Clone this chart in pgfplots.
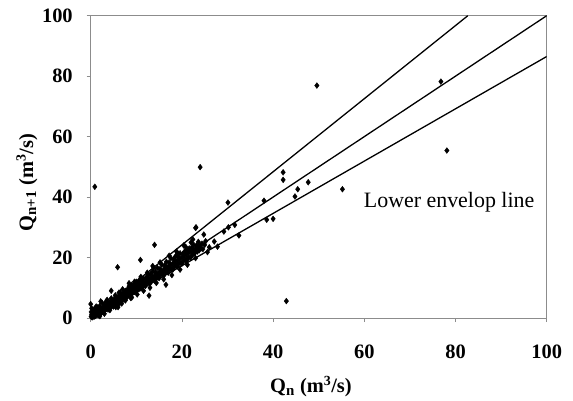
\documentclass[border=0pt]{standalone}
\usepackage{pgfplots}
\pgfplotsset{compat=1.18}
\usepackage{fontspec}
\setmainfont{Liberation Serif}
\begin{document}
\begin{tikzpicture}[x=1bp,y=1bp]
\useasboundingbox (0,0) rectangle (573,400);
\begin{axis}[
  at={(90.7bp,82bp)}, anchor=south west,
  width=456bp, height=302.3bp, scale only axis,
  xmin=0, xmax=100, ymin=0, ymax=100,
  xtick={0,20,40,60,80,100}, ytick={0,20,40,60,80,100},
  xtick pos=bottom, ytick pos=left,
  tick align=outside, major tick length=4bp,
  axis line style={draw=black!45, line width=0.8bp},
  every tick/.style={draw=black!45, line width=0.8bp},
  /pgf/number format/assume math mode=true,
  ticklabel style={font=\fontsize{20.5}{24}\selectfont\bfseries},
  xticklabel style={yshift=-19bp},
  yticklabel style={xshift=-10.5bp},
  xlabel={\textbf{Q\textsubscript{\fontsize{15}{16}\selectfont n} (m\textsuperscript{\fontsize{14}{16}\selectfont 3}/s)}},
  ylabel={\textbf{Q\textsubscript{\fontsize{15}{16}\selectfont n+1} (m\textsuperscript{\fontsize{14}{16}\selectfont 3}/s)}},
  label style={font=\fontsize{20.5}{24}\selectfont},
  xlabel style={at={(rel axis cs:0.483,-0.227)}, anchor=center},
  ylabel style={at={(rel axis cs:-0.140,0.448)}, anchor=center, rotate=0},
  clip=true,
]
\addplot[black, line width=1.3bp] coordinates {(0,0) (82.7,100)};
\addplot[black, line width=1.3bp] coordinates {(0,0) (100,100)};
\addplot[black, line width=1.3bp] coordinates {(0,0) (100,86.5)};
\addplot[only marks, mark=diamond*, mark size=2.9bp, black] table {
x y
0.1 0.5
0.2 1.2
0.3 0.2
0.4 0.8
0.5 2.0
0.5 0.4
0.6 1.5
0.7 0.9
0.8 3.0
0.8 0.5
0.9 1.8
1.0 1.0
1.0 2.5
1.1 0.7
1.2 1.6
1.3 2.2
1.4 1.0
1.5 3.5
1.5 1.4
1.6 2.0
1.7 0.9
1.8 2.6
1.9 1.5
2.0 2.0
2.0 4.0
2.1 1.2
2.2 3.0
2.3 2.4
2.4 1.8
2.5 5.0
2.5 2.8
2.6 2.2
2.7 3.5
2.8 1.9
2.9 3.0
3.0 2.5
3.0 4.5
0.0 4.6
0.2 3.2
0.1 2.0
0.3 1.0
3.1 3.8
3.2 2.7
3.3 3.3
3.4 5.5
3.5 3.0
3.6 4.2
3.7 3.5
3.8 2.8
3.9 4.8
4.0 4.0
4.1 3.4
4.2 5.2
4.3 4.4
4.4 3.6
4.5 6.5
4.6 4.8
4.7 4.0
4.8 5.6
4.9 4.3
5.0 5.0
5.0 3.8
5.1 6.2
5.2 5.4
5.3 4.5
5.4 7.5
5.5 5.8
5.6 4.8
5.7 6.6
5.8 5.2
5.9 16.8
6.0 6.0
6.0 4.6
6.1 7.2
6.2 5.5
6.3 6.8
6.4 5.0
6.5 8.5
6.6 6.4
6.7 5.8
6.8 7.6
6.9 6.0
7.0 7.0
7.0 9.5
7.1 6.2
7.2 8.0
7.3 6.6
7.4 7.8
7.5 6.5
7.6 9.0
7.7 7.2
7.8 6.8
7.9 8.4
8.0 8.0
8.0 7.0
8.1 9.5
8.2 7.5
8.3 8.8
8.4 10.5
8.5 7.8
8.6 9.2
8.7 8.2
8.8 10.0
8.9 8.0
9.0 9.0
9.0 11.0
9.1 8.3
9.2 9.8
9.3 8.5
9.4 10.6
9.5 9.2
9.6 8.6
9.7 11.2
9.8 9.6
9.9 9.0
10.0 10.0
10.0 12.0
10.1 9.0
10.2 10.8
10.3 9.4
10.4 11.4
10.5 10.2
10.6 9.6
10.7 12.6
10.8 10.6
10.9 19.2
11.0 11.0
11.0 9.8
11.2 12.0
11.4 10.4
11.5 11.6
11.6 13.0
11.8 11.0
12.0 12.0
12.0 10.6
12.2 13.4
12.4 11.8
12.5 12.6
12.6 14.2
12.8 7.4
12.8 11.6
13.0 13.0
13.0 11.4
13.2 14.6
13.4 12.4
13.5 13.6
13.6 15.4
13.8 12.8
14.0 24.2
14.0 14.0
14.0 12.4
14.2 15.2
14.4 13.4
14.5 14.6
14.6 16.6
14.8 13.8
15.0 15.0
15.0 13.2
15.2 16.2
15.4 14.4
15.5 15.6
15.6 17.6
15.8 14.6
16.0 16.0
16.0 14.0
16.2 17.4
16.4 15.2
16.5 11.0
16.5 16.6
16.6 18.6
16.8 15.6
17.0 17.0
17.0 15.0
17.2 18.4
17.4 16.2
17.5 17.6
17.6 19.8
17.8 16.4
18.0 18.0
18.0 16.0
18.2 19.4
18.4 17.0
18.5 18.6
18.6 20.4
18.8 17.4
19.0 19.0
19.0 17.0
19.2 20.2
19.4 18.0
19.5 19.6
19.6 21.4
19.8 18.2
20.0 20.0
20.0 18.0
20.2 21.2
20.4 19.0
20.5 20.6
20.6 22.0
20.8 19.2
21.0 21.0
21.0 19.0
21.2 22.4
21.4 20.0
21.5 21.6
21.6 23.0
21.8 20.0
22.0 22.0
22.0 20.2
22.2 23.4
22.4 21.0
22.5 22.6
22.6 24.2
22.8 21.4
23.0 23.0
23.0 29.8
23.1 30.0
23.2 24.0
23.4 22.0
23.5 23.4
23.6 25.2
23.8 22.4
24.0 24.0
24.0 49.9
24.2 23.0
24.4 24.6
24.6 22.8
25.0 24.2
25.2 25.4
26.0 23.4
27.1 25.3
27.8 23.6
29.2 28.6
30.1 38.2
30.2 30.0
31.6 30.8
32.5 27.3
0.9 43.4
38.0 38.8
38.6 32.5
40.0 32.8
42.2 48.2
42.2 45.7
42.9 5.6
44.8 40.2
45.4 42.6
47.7 44.9
49.6 76.9
55.2 42.6
76.8 78.2
78.1 55.4
1.2 3.8
2.2 5.5
3.6 6.0
4.2 2.6
5.5 3.6
6.2 8.4
6.8 4.8
7.6 5.8
8.4 11.5
8.8 6.6
9.6 12.0
10.2 7.8
11.0 13.6
11.6 9.0
12.4 15.0
13.0 10.0
13.8 16.6
14.4 11.6
15.2 18.4
16.0 12.8
17.2 20.6
17.8 14.2
18.8 22.0
19.6 16.0
20.4 24.0
21.2 17.6
22.4 26.0
23.0 19.8
24.8 27.6
25.6 21.8
20.8 23.6
22.0 25.0
19.0 21.6
3.0 1.4
2.0 0.6
6.0 3.6
9.0 6.8
4.5 9.0
13.6 17.2
};
\node[anchor=base, font=\fontsize{22}{26}\selectfont] at (axis cs:78.6,36.7) {Lower envelop line};
\end{axis}
\end{tikzpicture}
\end{document}
